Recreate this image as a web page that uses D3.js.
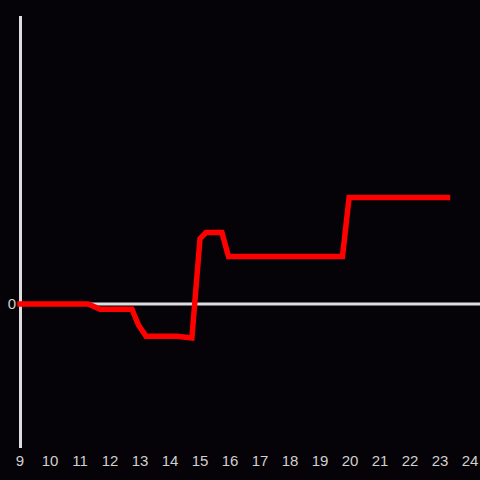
<!DOCTYPE html>
<html><head><meta charset="utf-8">
<script src="https://cdn.jsdelivr.net/npm/d3@7"></script>
<style>html,body{margin:0;padding:0;background:#050307;}svg{display:block;}</style>
</head><body>
<script>
const hours = [9, 11.27, 11.67, 12.73, 12.95, 13.2, 14.23, 14.73, 15.0, 15.2, 15.73, 15.95, 19.75, 19.97, 23.25];
const values = [0, 0, -1.8, -1.8, -7.3, -11.2, -11.2, -11.8, 22.7, 24.8, 24.8, 16.5, 16.5, 37.0, 37.0];
const xTicks = [9,10,11,12,13,14,15,16,17,18,19,20,21,22,23,24];
const yTicks = [0];

const W = 480, H = 480;
const svg = d3.select("body").append("svg").attr("width", W).attr("height", H);
svg.append("rect").attr("width", W).attr("height", H).attr("fill", "#050307");

const x = d3.scaleLinear().domain([9, 24]).range([20, 470]);
const y = d3.scaleLinear().domain([-50, 100]).range([448, 16]);

// zero line
svg.append("line").attr("x1", 20).attr("x2", 480).attr("y1", y(0)).attr("y2", y(0))
  .attr("stroke", "#dddddd").attr("stroke-width", 3);
// y axis line
svg.append("line").attr("x1", 20.5).attr("x2", 20.5).attr("y1", 16).attr("y2", 448)
  .attr("stroke", "#dddddd").attr("stroke-width", 3);

svg.selectAll("text.xt").data(xTicks).enter().append("text")
  .attr("x", d => x(d)).attr("y", 466).attr("text-anchor", "middle")
  .attr("font-family", "Liberation Sans, Arial, sans-serif").attr("font-size", 15)
  .attr("fill", "#d0d0d0").text(d => d);
svg.selectAll("text.yt").data(yTicks).enter().append("text")
  .attr("x", 16).attr("y", y(0)).attr("dy", "0.36em").attr("text-anchor", "end")
  .attr("font-family", "Liberation Sans, Arial, sans-serif").attr("font-size", 15)
  .attr("fill", "#d0d0d0").text(d => d);

const data = hours.map((h, i) => [h, values[i]]);
svg.append("path").datum(data)
  .attr("d", d3.line().x(d => x(d[0])).y(d => y(d[1])))
  .attr("fill", "none").attr("stroke", "#ff0000").attr("stroke-width", 5.5)
  .attr("stroke-linecap", "square").attr("stroke-linejoin", "miter");
</script>
</body></html>
